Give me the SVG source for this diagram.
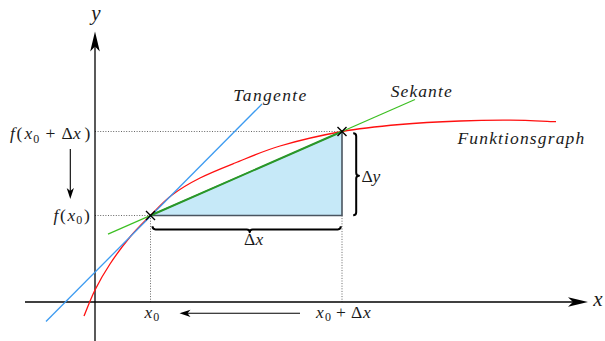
<svg xmlns="http://www.w3.org/2000/svg" xmlns:xlink="http://www.w3.org/1999/xlink" width="605" height="341" viewBox="0 0 605 341">
  <style>
    .axis { stroke:#000; stroke-width:1.3; fill:none; }
    .dot { stroke:#555; stroke-width:0.9; stroke-dasharray:1 1.6; fill:none; }
    .brace { stroke:#000; stroke-width:2; fill:none; stroke-linejoin:round; }
    .cross { stroke:#000; stroke-width:1.4; fill:none; }
    .arrowline { stroke:#000; stroke-width:1.1; fill:none; }
    text { font-family:'Liberation Serif','Times New Roman',serif; fill:#1a1a1a; font-size:17.5px; }
    .i { font-style:italic; }
    .sub { font-size:12px; }
    .ax { font-size:21px; font-style:italic; }
  </style>
  <defs>
    <path id="bigArrow" d="M0,0 L-20,-4.8 L-15,0 L-20,4.8 Z" fill="#000"/>
    <path id="smallArrow" d="M0,0 L-11,-3.6 L-8,0 L-11,3.6 Z" fill="#000"/>
    <path id="cross" d="M-4.5,-4.5 L4.5,4.5 M-4.5,4.5 L4.5,-4.5"/>
  </defs>

  <g id="helpers">
    <line class="dot" x1="95" y1="131.5" x2="342" y2="131.5"/>
    <line class="dot" x1="95" y1="215.5" x2="150.5" y2="215.5"/>
    <line class="dot" x1="150.5" y1="215.5" x2="150.5" y2="302"/>
    <line class="dot" x1="342" y1="215.5" x2="342" y2="302"/>
  </g>

  <g id="triangle">
    <polygon points="150.5,215.5 342,131.5 342,215.5" fill="#c6e9f8"/>
    <polyline points="150.5,215.5 342,215.5 342,131.5" fill="none" stroke="#4a5560" stroke-width="1.6"/>
  </g>

  <g id="axes">
    <line class="axis" x1="25" y1="302" x2="575" y2="302"/>
    <use xlink:href="#bigArrow" transform="translate(588,302)"/>
    <line class="axis" x1="95" y1="341" x2="95" y2="45"/>
    <use xlink:href="#bigArrow" transform="translate(95,31.5) rotate(-90)"/>
  </g>

  <g id="curves">
    <path id="funktionsgraph" fill="none" stroke="#ff1010" stroke-width="1.3"
      d="M84,316 C85.8,311.7 90.7,298.7 95,290 C99.3,281.3 104.2,272.8 110,264 C115.8,255.2 123.25,245.1 130,237 C136.75,228.9 143.5,222.5 150.5,215.5 C157.5,208.5 163.75,201.25 172,195 C180.25,188.75 189.5,183.3 200,178 C210.5,172.7 221.7,168.3 235,163 C248.3,157.7 262.2,151.25 280,146 C297.8,140.75 322,135.1 342,131.5 C362,127.9 380.3,126.25 400,124.5 C419.7,122.75 441.7,121.7 460,121 C478.3,120.3 494,120.1 510,120.2 C526,120.3 548.3,121.45 556,121.7"/>
    <line id="tangente" x1="46" y1="321.5" x2="262" y2="104" stroke="#3d9bf0" stroke-width="1.3"/>
    <line id="sekante" x1="108" y1="234.1" x2="415" y2="99.5" stroke="#3cbf22" stroke-width="1.2"/>
    <line x1="150.5" y1="215.5" x2="342" y2="131.5" stroke="#2a962a" stroke-width="2"/>
  </g>

  <g id="points">
    <use class="cross" xlink:href="#cross" transform="translate(150.5,215.5)"/>
    <use class="cross" xlink:href="#cross" transform="translate(342,131.5)"/>
  </g>

  <g id="braces">
    <path class="brace" d="M152.5,226.3 Q152.5,229.4 155.5,229.4 L246.7,229.4 Q249.7,229.4 249.7,232.3 Q249.7,229.4 252.7,229.4 L337.8,229.4 Q340.8,229.4 340.8,226.3"/>
    <path class="brace" d="M353.2,133.3 Q356.2,133.3 356.2,136.3 L356.2,172.8 Q356.2,175.7 359,175.7 Q356.2,175.7 356.2,178.6 L356.2,212.2 Q356.2,215.2 353.2,215.2"/>
  </g>

  <g id="hint-arrows">
    <line class="arrowline" x1="70.3" y1="149" x2="70.3" y2="192"/>
    <use xlink:href="#smallArrow" transform="translate(70.3,199) rotate(90)"/>
    <line class="arrowline" x1="300" y1="313.3" x2="187" y2="313.3"/>
    <use xlink:href="#smallArrow" transform="translate(179.5,313.3) rotate(180)"/>
  </g>

  <g id="labels">
    <text class="ax" x="96" y="20" text-anchor="middle">y</text>
    <text class="ax" x="598" y="306" text-anchor="middle">x</text>
    <text y="139"><tspan class="i" x="10">f</tspan><tspan x="16.5">(</tspan><tspan class="i" x="24.5">x</tspan><tspan class="sub" x="33.3" dy="3.5">0</tspan><tspan x="45.5" dy="-3.5">+</tspan><tspan x="61.5">Δ</tspan><tspan class="i" x="73">x</tspan><tspan x="84.5">)</tspan></text>
    <text y="220.5"><tspan class="i" x="53.5">f</tspan><tspan x="60">(</tspan><tspan class="i" x="67.5">x</tspan><tspan class="sub" x="76.3" dy="3.5">0</tspan><tspan x="84" dy="-3.5">)</tspan></text>
    <text y="317.5"><tspan class="i" x="144.5">x</tspan><tspan class="sub" x="153.3" dy="3.5">0</tspan></text>
    <text y="317.5"><tspan class="i" x="316">x</tspan><tspan class="sub" x="325" dy="3.5">0</tspan><tspan x="336" dy="-3.5">+</tspan><tspan x="351">Δ</tspan><tspan class="i" x="363">x</tspan></text>
    <text y="245"><tspan x="244">Δ</tspan><tspan class="i" x="255.5">x</tspan></text>
    <text y="181.5"><tspan x="361.5">Δ</tspan><tspan class="i" x="372.5">y</tspan></text>
    <text class="i" x="233.3" y="100.7" textLength="73">Tangente</text>
    <text class="i" x="390.7" y="96.7" textLength="61">Sekante</text>
    <text class="i" x="457.5" y="144.3" textLength="126.7">Funktionsgraph</text>
  </g>
</svg>
